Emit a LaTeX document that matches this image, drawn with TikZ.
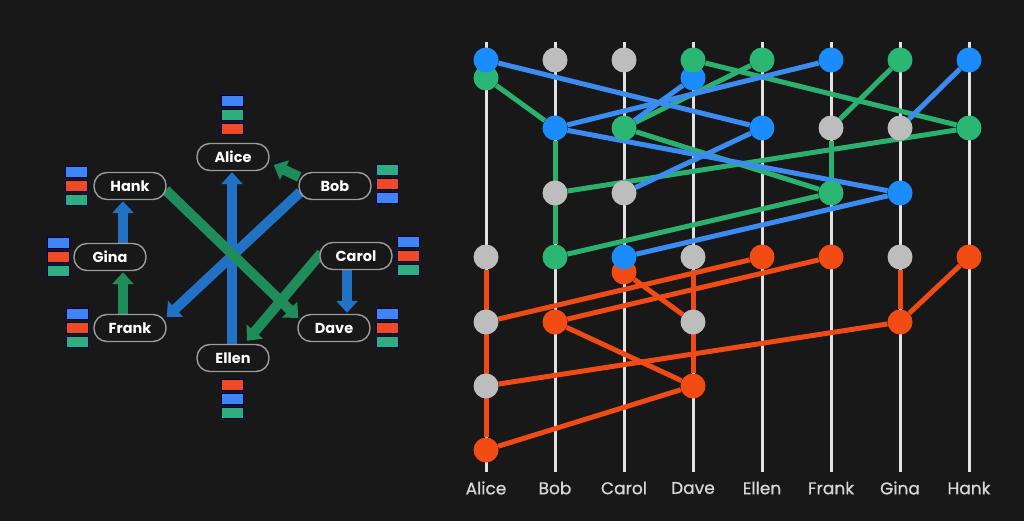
\documentclass[tikz,border=0pt]{standalone}
\usepackage{fontspec}
\setmainfont{Poppins}
\newfontfamily\labfont[FakeBold=0.8]{Poppins}
\usetikzlibrary{arrows.meta,calc}
\definecolor{bgc}{HTML}{181818}
\definecolor{nborder}{HTML}{9C9C9C}
\definecolor{sblue}{HTML}{3F86F4}
\definecolor{sred}{HTML}{F04A24}
\definecolor{sgreen}{HTML}{2FAE7D}
\definecolor{ablue}{HTML}{2172C4}
\definecolor{agreen}{HTML}{1F8C5C}
\definecolor{dblue}{HTML}{1A8CFF}
\definecolor{dgreen}{HTML}{2BB673}
\definecolor{dred}{HTML}{F24B14}
\definecolor{dgray}{HTML}{BDBDBD}
\definecolor{lblue}{HTML}{3A8CF2}
\definecolor{lgreen}{HTML}{2BB070}
\definecolor{lred}{HTML}{F04A16}
\definecolor{colline}{HTML}{E2E2E2}
\definecolor{labc}{HTML}{D6D6D6}
\pgfdeclarelayer{back}
\pgfdeclarelayer{links}
\pgfsetlayers{back,links,main}
\newcommand\colstack[5]{%
  \path[stackrect,fill=#3] (#1,#2) rectangle ++(22,11);
  \path[stackrect,fill=#4] (#1,#2+14) rectangle ++(22,11);
  \path[stackrect,fill=#5] (#1,#2+28) rectangle ++(22,11);}
\tikzset{
  person/.style={draw=nborder, line width=1.4pt, fill=bgc, rounded corners=13pt,
    minimum width=72pt, minimum height=27pt, inner sep=0pt, text=white,
    font=\bfseries\fontsize{14.5}{14.5}\selectfont},
  stackrect/.style={draw=black!70!blue, line width=0.8pt},
  fatarrow/.style={line width=10pt, -{Triangle[width=21pt,length=12pt]}},
  barrow/.style={fatarrow, draw=ablue},
  garrow/.style={fatarrow, draw=agreen},
  dot/.style={circle, minimum size=25pt, inner sep=0pt},
  bd/.style={dot, fill=dblue},
  gd/.style={dot, fill=dgreen},
  rd/.style={dot, fill=dred},
  yd/.style={dot, fill=dgray},
  bl/.style={line width=5pt, draw=lblue},
  gl/.style={line width=5pt, draw=lgreen},
  rl/.style={line width=5pt, draw=lred},
  cline/.style={line width=3pt, draw=colline},
  clabel/.style={text=labc, font=\labfont\fontsize{17}{17}\selectfont, inner sep=0pt}
}
\begin{document}
\begin{tikzpicture}[x=1pt,y=-1pt]
\begin{pgfonlayer}{back}
\useasboundingbox[fill=bgc] (0,0) rectangle (1024,521);
\end{pgfonlayer}

% ---------- left: network ----------
\node[person] (alice) at (233,157) {Alice};
\node[person] (bob)   at (335,186) {Bob};
\node[person] (hank)  at (130,186) {Hank};
\node[person] (gina)  at (110,257) {Gina};
\node[person] (carol) at (356,256) {Carol};
\node[person] (frank) at (130,328) {Frank};
\node[person] (dave)  at (334,328) {Dave};
\node[person] (ellen) at (233,358) {Ellen};

\colstack{221}{95}{sblue}{sgreen}{sred}
\colstack{376}{164}{sgreen}{sred}{sblue}
\colstack{65}{166}{sblue}{sred}{sgreen}
\colstack{47}{237}{sblue}{sred}{sgreen}
\colstack{66}{308}{sblue}{sred}{sgreen}
\colstack{397}{236}{sblue}{sred}{sgreen}
\colstack{376}{308}{sblue}{sred}{sgreen}
\colstack{221}{379}{sred}{sblue}{sgreen}

\begin{pgfonlayer}{links}
\draw[barrow] ($(ellen.north)+(-1,0)$) -- ($(alice.south)+(-1,1)$);
\draw[barrow] ($(bob.west)+(2,6)$) -- ($(frank.east)+(0,-11)$);
\draw[barrow] ($(gina.north)+(13,0)$) -- ($(hank.south)+(-7,1)$);
\draw[barrow] ($(carol.south)+(-9,0)$) -- ($(dave.north)+(13,-1)$);
\draw[garrow] ($(hank.east)+(-1,4)$) -- ($(dave.west)+(1,-10)$);
\draw[garrow] ($(carol.west)+(2,-3)$) -- ($(ellen.north)+(14,-3)$);
\draw[garrow] ($(bob.west)+(1,-9)$) -- ($(alice.east)+(4,8)$);
\draw[garrow] ($(frank.north)+(-7,0)$) -- ($(gina.south)+(13,1)$);
\end{pgfonlayer}

% ---------- right: timelines ----------
\begin{pgfonlayer}{back}
\foreach \x in {486,555,624,693,762,831,900,969}
  \draw[cline] (\x,42) -- (\x,472);
\end{pgfonlayer}
\node[clabel] (lA) at (486,488) {Alice};
\node[clabel] (lB) at (555,488) {Bob};
\node[clabel] (lC) at (624,488) {Carol};
\node[clabel] (lD) at (693,488) {Dave};
\node[clabel] (lE) at (762,488) {Ellen};
\node[clabel] (lF) at (831,488) {Frank};
\node[clabel] (lG) at (900,488) {Gina};
\node[clabel] (lH) at (969,488) {Hank};

% row 0
\node[gd] (A0g) at (486,78) {};
\node[bd] (A0) at (486,60) {};
\node[yd] (B0) at (555,60) {};
\node[yd] (C0) at (624,60) {};
\node[bd] (D0b) at (693,78) {};
\node[gd] (D0) at (693,60) {};
\node[gd] (E0) at (762,60) {};
\node[bd] (F0) at (831,60) {};
\node[gd] (G0) at (900,60) {};
\node[bd] (H0) at (969,60) {};
% row 1
\node[bd] (B1) at (555,128) {};
\node[gd] (C1) at (624,128) {};
\node[bd] (E1) at (762,128) {};
\node[yd] (F1) at (831,128) {};
\node[yd] (G1) at (900,128) {};
\node[gd] (H1) at (969,128) {};
% row 2
\node[yd] (B2) at (555,193) {};
\node[yd] (C2) at (624,193) {};
\node[gd] (F2) at (831,193) {};
\node[bd] (G2) at (900,193) {};
% row 3
\node[yd] (A3) at (486,257) {};
\node[gd] (B3) at (555,257) {};
\node[rd] (C3r) at (624,272) {};
\node[bd] (C3) at (624,257) {};
\node[yd] (D3) at (693,257) {};
\node[rd] (E3) at (762,257) {};
\node[rd] (F3) at (831,257) {};
\node[yd] (G3) at (900,257) {};
\node[rd] (H3) at (969,257) {};
% row 4
\node[yd] (A4) at (486,322) {};
\node[rd] (B4) at (555,322) {};
\node[yd] (D4) at (693,322) {};
\node[rd] (G4) at (900,322) {};
% row 5
\node[yd] (A5) at (486,386) {};
\node[rd] (D5) at (693,386) {};
% row 6
\node[rd] (A6) at (486,450) {};

\begin{pgfonlayer}{links}
% green
\draw[gl] (A0g) -- (B1);
\draw[gl] (B1) -- (B3);
\draw[gl] (D0) -- (H1);
\draw[gl] (E0) -- (C1);
\draw[gl] (C1) -- (F2);
\draw[gl] (G0) -- (F1);
\draw[gl] (F1) -- (F2);
\draw[gl] (H1) -- (B2);
\draw[gl] (F2) -- (B3);
% blue
\draw[bl] (A0) -- (E1);
\draw[bl] (C1) -- (D0b);
\draw[bl] (B1) -- (F0);
\draw[bl] (B1) -- (G2);
\draw[bl] (C2) -- (E1);
\draw[bl] (H0) -- (G1);
\draw[bl] (C3) -- (G2);
% red
\draw[rl] (A3) -- (A6);
\draw[rl] (A4) -- (E3);
\draw[rl] (B4) -- (F3);
\draw[rl] (B4) -- (D5);
\draw[rl] (C3r) -- (D4);
\draw[rl] (D3) -- (D5);
\draw[rl] (A5) -- (G4);
\draw[rl] (A6) -- (D5);
\draw[rl] (G3) -- (G4);
\draw[rl] (G4) -- (H3);
\end{pgfonlayer}
\end{tikzpicture}
\end{document}
